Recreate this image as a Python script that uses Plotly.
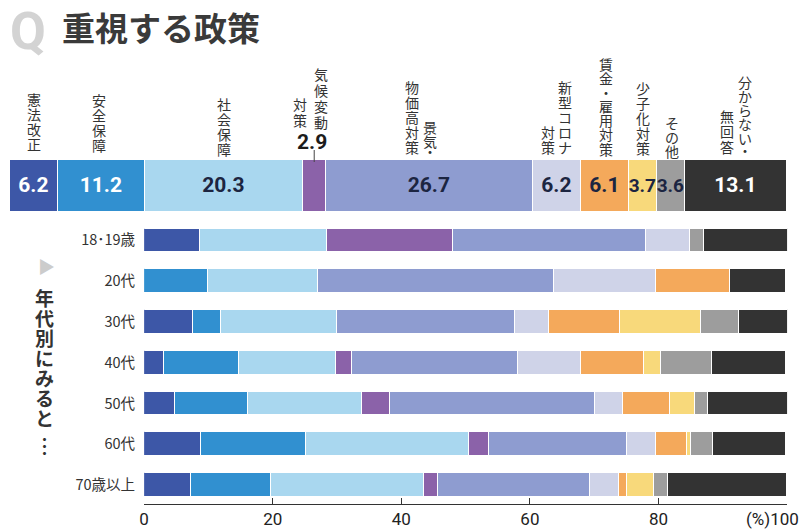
import plotly.graph_objects as go

# ---------------- data ----------------
policies = ["憲法改正", "安全保障", "社会保障", "気候変動対策", "景気・物価高対策",
            "新型コロナ対策", "賃金・雇用対策", "少子化対策", "その他", "分からない・無回答"]
overall = [6.2, 11.2, 20.3, 2.9, 26.7, 6.2, 6.1, 3.7, 3.6, 13.1]

ages = ["18･19歳", "20代", "30代", "40代", "50代", "60代", "70歳以上"]
kenpo     = [8.7, 0.0, 7.6, 3.1, 4.8, 8.8, 7.3]
anzen     = [0.0, 10.0, 4.3, 11.6, 11.3, 16.4, 12.5]
shakai    = [19.8, 17.0, 18.1, 15.1, 17.8, 25.3, 23.8]
kiko      = [19.6, 0.0, 0.0, 2.6, 4.3, 3.1, 2.2]
bukka     = [30.0, 36.8, 27.7, 25.8, 32.0, 21.5, 23.6]
corona    = [6.8, 15.9, 5.3, 9.7, 4.3, 4.6, 4.5]
chingin   = [0.0, 11.4, 11.0, 9.9, 7.3, 4.8, 1.2]
shoshika  = [0.0, 0.0, 12.7, 2.6, 3.9, 0.6, 4.2]
sonota    = [2.2, 0.0, 5.9, 8.0, 2.0, 3.4, 2.2]
wakaranai = [13.0, 8.8, 7.6, 11.4, 12.4, 11.4, 18.5]
by_age = [kenpo, anzen, shakai, kiko, bukka, corona, chingin, shoshika, sonota, wakaranai]

x_ticks = [0, 20, 40, 60, 80, 100]
x_ticktext = ["0", "20", "40", "60", "80", ""]

# ---------------- style ----------------
colors = ["#3d57a7", "#3190d0", "#a9d7ef", "#8b62a9", "#8e9cd0",
          "#cfd3e8", "#f4a95b", "#f8d97b", "#9d9d9d", "#333333"]
num_colors = ["white", "white", "#1c2541", "#1c2541", "#1c2541",
              "#1c2541", "#1c2541", "#1c2541", "#1c2541", "white"]
NARROW = "Roboto, Liberation Sans, sans-serif"
JP = "Noto Sans CJK JP, Noto Sans, sans-serif"
W, H = 800, 532

def py(p):
    return 1 - p / H

fig = go.Figure()

# top overall bar
for i, (name, v) in enumerate(zip(policies, overall)):
    show = name != "気候変動対策"
    fig.add_trace(go.Bar(
        x=[v], y=["全体"], orientation="h", name=name,
        marker=dict(color=colors[i], line=dict(color="white", width=1.2)),
        xaxis="x2", yaxis="y2", width=1,
        text=[f"{v:.1f}"] if show else None,
        textposition="inside" if show else "none",
        insidetextanchor="middle", textangle=0, constraintext="none",
        textfont=dict(family=NARROW, size=21 if v > 5 else 19, color=num_colors[i],
                      weight="bold"),
        showlegend=False, hoverinfo="x+name",
    ))

# age rows
for i, (name, vals) in enumerate(zip(policies, by_age)):
    fig.add_trace(go.Bar(
        x=vals, y=ages, orientation="h", name=name,
        marker=dict(color=colors[i], line=dict(color="white", width=1.2)),
        width=0.58, showlegend=False, hoverinfo="x+name",
    ))

annotations = []

def ann(text, x, y, xref="paper", size=14, color="#333333", family=JP, xanchor="center",
        yanchor="middle", xshift=0, weight="normal"):
    annotations.append(dict(text=text, x=x, y=y, xref=xref, yref="paper",
                            xanchor=xanchor, yanchor=yanchor, xshift=xshift,
                            showarrow=False, borderpad=0,
                            font=dict(family=family, size=size, color=color, weight=weight)))

# Title
ann("Q", 4 / W, 1.0, size=52, color="#d3d3d3", family="Roboto, Noto Sans, sans-serif",
    xanchor="left", yanchor="top", weight="bold")
ann("重視する政策", 56 / W, py(27), size=33, color="#3a3a3a", xanchor="left", weight="bold")

# vertical category labels above top bar (one glyph per line, stacked)
cum = []
s = 0
for v in overall:
    cum.append(s + v / 2)
    s += v

label_cols = [
    (0, "憲法改正", 0, [99, 114, 129, 144]),
    (1, "安全保障", -3, [100, 115, 130, 145]),
    (2, "社会保障", 0, [104, 119, 134, 149]),
    (3, "気候変動", 7, [74, 90, 106, 122]),
    (3, "対策", -14, [104, 120]),
    (4, "景気・", 1, [127, 141, 151]),
    (4, "物価高対策", -17, [87, 102, 117, 132, 147]),
    (5, "新型コロナ", 8, [87, 102, 117, 132, 147]),
    (5, "対策", -9, [132, 147]),
    (6, "賃金・雇用対策", 1, [64, 78, 92, 106, 120, 134, 149]),
    (7, "少子化対策", 0, [88, 103, 118, 133, 148]),
    (8, "その他", 1, [123, 137, 151]),
    (9, "分からない・", 9, [82, 96, 110, 124, 138, 150]),
    (9, "無回答", -9, [116, 131, 147]),
]
for idx, txt, dx, ys in label_cols:
    for ch, yy in zip(txt, ys):
        ann(ch, cum[idx], py(yy), xref="x2", size=14, xshift=dx)

# 2.9 label above the narrow segment
ann(f"{overall[3]:.1f}", cum[3], py(142), xref="x2", size=21, color="#1c1c1c",
    family=NARROW, xshift=-2, weight="bold")

# left vertical caption
ann("▶", 42 / W, py(265), size=17, color="#cccccc")
for ch, yy in zip("年代別にみると", [297, 317, 337, 357, 377, 397, 417]):
    ann(ch, 40 / W, py(yy), size=19, weight="bold")
ann("︙", 40 / W, py(445), size=19, weight="bold")

# (%)100 label
ann("(%)100", 1.0, py(519), size=17, color="#222222", family=NARROW, xanchor="right")

shapes = [dict(type="line", xref="x2", yref="paper", x0=cum[3], x1=cum[3],
               y0=py(150), y1=py(162), line=dict(color="#444444", width=1))]

fig.update_layout(
    width=W, height=H, margin=dict(l=0, r=0, t=0, b=0),
    paper_bgcolor="white", plot_bgcolor="white",
    barmode="stack", bargap=0,
    annotations=annotations, shapes=shapes,
    xaxis=dict(domain=[140 / W, 787 / W], range=[0, 100], tickvals=x_ticks, ticktext=x_ticktext,
               showline=True, linecolor="#333333", linewidth=1, ticks="inside", ticklen=6,
               tickcolor="#333333", showgrid=False, zeroline=False, anchor="y",
               tickfont=dict(family=NARROW, size=17, color="#222222"),
               fixedrange=True),
    yaxis=dict(domain=[py(504), py(220)], type="category", categoryorder="array",
               categoryarray=ages, range=[len(ages) - 1 + 0.466, -0.5],
               showgrid=False, zeroline=False, showline=False, ticks="",
               ticklabelstandoff=8,
               tickfont=dict(family=JP, size=14.5, color="#333333"), anchor="x"),
    xaxis2=dict(domain=[5 / W, 787 / W], range=[0, 100], visible=False, anchor="y2"),
    yaxis2=dict(domain=[py(212), py(160)], range=[-0.5, 0.5], visible=False, anchor="x2"),
)

fig.write_html("out.html", config={"displayModeBar": False},
               post_script="document.body.style.margin='0';")
